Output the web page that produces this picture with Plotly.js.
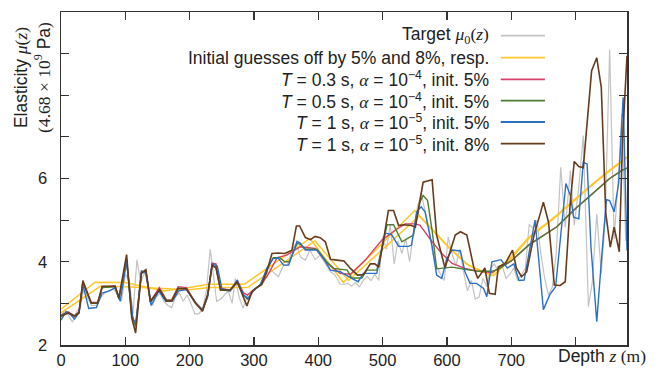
<!DOCTYPE html>
<html>
<head>
<meta charset="utf-8">
<script src="https://cdn.plot.ly/plotly-3.0.1.min.js"></script>
<style>html,body{margin:0;padding:0;background:#fff;}#chart{width:665px;height:370px;}</style>
</head>
<body>
<div id="chart"></div>
<script>
// ---- data (depth z in m, elasticity in units of 4.68e9 Pa) ----
const zTarget = [0,6,12,18,24,30,36,42,48,55,62,68,75,82,88,94,100,106,112,118,124,130,136,142,148,154,160,166,172,178,184,190,196,202,208,214,220,226,232,238,242,248,254,260,266,271,277,283,290,296,302,308,315,322,330,338,346,352,359,366,372,380,387,395,403,411,419,426,434,440,446,452,458,464,470,476,482,488,494,500,506,512,518,524,530,536,542,548,554,560,566,572,578,584,590,596,602,608,614,620,626,632,638,644,650,656,662,668,674,680,686,692,698,704,710,716,722,728,734,740,746,752,758,764,770,777,784,792,798,805,812,820,826,833,840,846,853,860,866,872,878];
const muTarget = [2.65,2.85,2.7,2.55,2.8,2.9,3.4,3.1,2.95,2.95,3.15,3.25,3.3,3.35,3.2,3.05,3.7,3.55,2.75,4.05,3.5,3.75,3.35,2.95,3.15,3.25,3.05,2.95,2.9,3.15,3.25,3.05,3.2,3.0,2.75,2.75,2.85,3.3,4.3,3.5,3.05,3.1,3.2,3.3,3.0,3.6,3.15,2.88,3.2,3.3,3.35,3.4,3.5,3.88,3.75,3.64,3.92,3.92,4.28,4.44,4.12,4.04,4.28,4.05,4.16,3.96,3.76,3.68,3.46,3.46,3.48,3.42,3.5,3.4,3.55,3.65,3.55,3.7,3.55,4.6,4.3,4.9,3.95,4.5,4.2,4.55,4.0,4.7,5.3,5.65,5.2,4.8,4.2,3.9,3.7,3.55,4.6,4.2,3.9,4.3,3.75,3.3,3.55,3.1,3.15,3.6,3.4,3.85,3.95,3.75,3.9,3.6,3.7,3.85,3.55,3.7,3.85,4.9,4.8,5.0,4.2,3.6,3.2,3.4,4.2,6.27,4.83,6.19,4.87,5.79,7.03,2.92,3.5,5.15,3.72,5.0,9.1,4.55,5.88,7.55,4.5];

const zInitA  = [0,53,100,160,200,230,285,387,439,550,600,630,668,700,728,771,800,827,853,880];
const muInitA = [2.86,3.51,3.5,3.3,3.38,3.46,3.46,4.56,3.5,5.23,4.4,3.95,3.68,4.12,4.6,5.12,5.52,5.88,6.2,6.52];
const zInitB  = [0,61,100,165,200,230,290,395,447,557,605,635,672,700,728,771,800,827,853,880];
const muInitB = [2.77,3.41,3.4,3.36,3.33,3.38,3.38,4.5,3.55,5.1,4.3,3.9,3.66,4.08,4.57,5.1,5.5,5.86,6.18,6.5];

const zRed  = [0,11,21,28,34,47,57,64,84,90,102,110,116,125,132,139,153,164,172,182,195,209,220,228,235,241,248,263,274,284,290,299,310,320,336,351,372,395,414,434,450,473,499,519,535,550,558,577,592,608,628,649,670,681,700,728,771,800,827,853,873,880];
const muRed = [2.72,2.8,2.7,2.8,3.5,3.02,3.02,3.38,3.42,3.12,4.05,2.72,2.5,3.72,3.78,3.05,3.38,3.08,3.08,3.4,3.38,3.02,2.85,3.2,3.97,3.95,3.35,3.32,3.55,3.25,3.2,3.32,3.45,3.64,4.1,4.16,4.36,4.32,3.96,3.72,3.7,4.04,4.52,4.75,4.91,4.91,4.88,4.48,4.2,3.96,3.84,3.77,3.74,3.85,4.02,4.41,4.84,5.28,5.64,6.0,6.2,6.25];

const zGreen  = [0,11,21,28,34,47,57,64,84,90,102,110,116,125,132,139,153,164,172,182,195,209,220,228,235,241,248,263,274,284,290,299,310,320,330,340,348,355,367,372,380,398,413,424,445,452,468,475,491,507,517,530,543,548,558,563,570,577,584,608,628,649,670,681,700,728,771,800,827,853,873,880];
const muGreen = [2.72,2.78,2.7,2.78,3.5,3.0,3.0,3.38,3.4,3.1,4.05,2.7,2.45,3.72,3.78,3.02,3.33,3.07,3.07,3.37,3.35,3.0,2.85,3.2,3.9,3.85,3.32,3.3,3.5,3.2,3.1,3.3,3.45,3.8,4.1,4.1,4.0,4.0,4.44,4.42,4.3,4.3,4.0,3.84,3.8,3.61,3.61,3.8,3.8,4.89,4.89,4.48,4.6,4.64,5.43,5.59,5.47,4.75,3.83,3.87,3.82,3.77,3.77,3.83,4.02,4.41,4.84,5.28,5.64,6.0,6.2,6.25];

const zBlue  = [0,8,14,21,28,34,43,55,64,75,85,92,102,112,117,125,132,140,152,163,173,183,195,210,220,228,235,243,250,263,274,284,291,299,310,320,330,338,346,354,367,372,380,398,408,419,434,445,452,462,470,491,504,514,525,540,545,553,560,566,577,584,592,600,608,621,628,636,646,657,662,670,684,694,704,712,720,737,750,760,769,785,792,797,805,812,818,824,833,841,848,853,860,867,874,880];
const muBlue = [2.6,2.8,2.75,2.62,2.78,3.45,2.88,2.9,3.25,3.3,3.38,3.05,4.0,2.6,2.55,3.78,3.73,2.95,3.3,3.05,3.05,3.3,3.33,3.0,2.83,3.15,3.95,3.9,3.36,3.3,3.56,3.2,3.12,3.32,3.44,3.84,4.08,4.08,3.92,3.92,4.49,4.45,4.28,4.28,4.08,3.8,3.76,3.65,3.6,3.52,3.72,3.72,4.69,4.65,4.37,4.37,4.4,5.2,5.32,5.2,4.37,3.68,3.6,4.08,4.28,4.26,3.76,3.48,3.48,3.36,3.16,4.0,4.05,3.85,3.95,3.55,3.56,5.0,2.85,3.21,3.4,5.88,5.59,5.07,5.03,6.39,6.35,4.35,2.56,4.19,5.49,5.47,5.2,5.88,7.95,4.27];

const zBrown  = [0,11,21,28,34,47,57,64,84,90,102,110,116,125,132,139,153,164,172,182,195,209,220,228,235,241,248,263,274,282,289,297,304,312,320,328,338,348,359,366,371,380,388,395,403,411,419,429,440,450,461,470,481,488,494,500,509,517,525,532,545,551,563,577,584,597,613,621,631,642,648,659,666,675,680,691,702,708,716,724,736,745,750,758,767,776,784,792,798,805,812,825,833,840,847,854,860,868,873,880];
const muBrown = [2.69,2.77,2.69,2.77,3.55,3.01,3.01,3.41,3.41,3.13,4.17,2.65,2.29,3.73,3.81,3.05,3.33,3.05,3.05,3.35,3.35,3.01,2.81,3.2,3.92,3.86,3.32,3.32,3.52,3.2,2.94,3.28,3.38,3.45,3.76,4.2,4.21,4.2,4.28,4.86,4.86,4.58,4.53,4.61,4.58,4.48,4.06,4.04,4.02,3.84,3.68,3.69,3.95,3.95,3.87,4.39,5.23,5.23,4.87,4.89,4.87,4.83,5.91,5.97,4.64,3.85,4.64,4.72,4.64,3.85,3.6,3.85,3.24,3.22,3.88,3.96,4.28,3.85,3.64,3.76,4.68,5.15,5.43,4.95,3.44,3.43,3.52,5.47,6.41,6.29,6.26,8.59,8.9,8.19,5.16,4.35,4.83,4.24,6.91,8.95];

const legendLabels = [
  'Target <span style="font-family:Liberation Serif"><i>μ</i><sub>0</sub>(<i>z</i>)</span>',
  'Initial guesses off by 5% and 8%, resp.',
  '<i>T</i> = 0.3 s, <span style="font-family:Liberation Serif"><i>α</i></span> = 10<sup>−4</sup>, init. 5%',
  '<i>T</i> = 0.5 s, <span style="font-family:Liberation Serif"><i>α</i></span> = 10<sup>−4</sup>, init. 5%',
  '<i>T</i> = 1 s, <span style="font-family:Liberation Serif"><i>α</i></span> = 10<sup>−5</sup>, init. 5%',
  '<i>T</i> = 1 s, <span style="font-family:Liberation Serif"><i>α</i></span> = 10<sup>−5</sup>, init. 8%'
];
const xTickVals = [0,100,200,300,400,500,600,700];
const xTickText = ['0','100','200','300','400','500','600','700'];
const xMinorVals = [800];
const yTickVals = [2,4,6];
const yTickText = ['2','4','6'];
const yMinorVals = [3,5,7,8,9];

// ---- styles ----
const cGray='#c3c3c3', cYellow='#ffc72c', cRed='#d8426a', cGreen='#4c7d30', cBlue='#2a6fca', cBrown='#673c1c';
const legendColors = [cGray, cYellow, cRed, cGreen, cBlue, cBrown];
const FS = 17.5;
const TFS = 16.5;

function tr(x, y, color, w) {
  return {x: x, y: y, type: 'scatter', mode: 'lines', line: {color: color, width: w || 1.4}, hoverinfo: 'skip'};
}
const traces = [
  tr(zTarget, muTarget, cGray, 1.2),
  tr(zInitA, muInitA, cYellow, 1.5),
  tr(zInitB, muInitB, cYellow, 1.5),
  tr(zRed, muRed, cRed, 1.4),
  tr(zGreen, muGreen, cGreen, 1.4),
  tr(zBlue, muBlue, cBlue, 1.4),
  tr(zBrown, muBrown, cBrown, 1.6)
];

// legend drawn manually (text right-aligned, sample line on the right)
const rowY = [0.9288, 0.8628, 0.7979, 0.7336, 0.6697, 0.6045];
const annotations = [];
const shapes = [];
for (let i = 0; i < legendLabels.length; i++) {
  annotations.push({xref:'paper', yref:'paper', x:0.7597, y:rowY[i], xanchor:'right', yanchor:'middle',
    text: legendLabels[i], showarrow:false, font:{family:'Liberation Sans', size:FS, color:'#222'}});
  shapes.push({type:'line', xref:'paper', yref:'paper', x0:0.777, x1:0.855, y0:rowY[i], y1:rowY[i],
    line:{color:legendColors[i], width:1.8}});
}
annotations.push({xref:'paper', yref:'paper', x:-0.0495, y:0.805, xanchor:'center', yanchor:'middle', textangle:-90,
  text:'Elasticity <span style="font-family:Liberation Serif"><i>μ</i>(<i>z</i>)</span><br><span style="font-family:Liberation Serif">(4.68 × 10<sup>9</sup></span> Pa<span style="font-family:Liberation Serif">)</span>',
  showarrow:false, font:{family:'Liberation Sans', size:FS, color:'#222'}});
annotations.push({xref:'paper', yref:'paper', x:0.9558, y:-0.033, xanchor:'center', yanchor:'middle',
  text:'Depth <span style="font-family:Liberation Serif"><i>z</i> (m)</span>',
  showarrow:false, font:{family:'Liberation Sans', size:FS, color:'#222'}});

const axisCommon = {showgrid:false, zeroline:false, showline:true, linecolor:'#333', linewidth:1.5,
  ticks:'inside', ticklen:8, tickwidth:1.2, tickcolor:'#333', mirror:'ticks',
  tickfont:{family:'Liberation Sans', size:TFS, color:'#222'}};

const layout = {
  width:665, height:370,
  margin:{l:61, r:38, t:12, b:25},
  paper_bgcolor:'#fff', plot_bgcolor:'#fff',
  showlegend:false,
  xaxis: Object.assign({}, axisCommon, {range:[0,880], tickmode:'array', tickvals:xTickVals, ticktext:xTickText, ticklabelstandoff:0,
    minor:{tickmode:'array', tickvals:xMinorVals, ticks:'inside', ticklen:8, tickwidth:1.2, tickcolor:'#333', showgrid:false}}),
  yaxis: Object.assign({}, axisCommon, {range:[2,10], tickmode:'array', tickvals:yTickVals, ticktext:yTickText, ticklabelstandoff:9,
    minor:{tickmode:'array', tickvals:yMinorVals, ticks:'inside', ticklen:8, tickwidth:1.2, tickcolor:'#333', showgrid:false}}),
  annotations: annotations,
  shapes: shapes
};

Plotly.newPlot('chart', traces, layout, {staticPlot:true, displayModeBar:false});
</script>
</body>
</html>
